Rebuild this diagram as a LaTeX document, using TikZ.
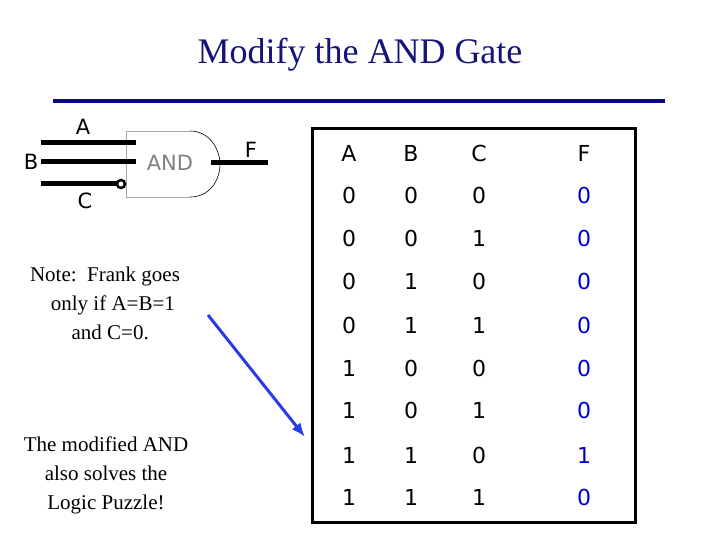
\documentclass[tikz,border=0pt]{standalone}
\usepackage{fontspec}
\usetikzlibrary{arrows.meta}
\setmainfont{Liberation Serif}
\newfontfamily\gatefont{DejaVu Sans}
\begin{document}
\begin{tikzpicture}[x=1pt,y=-1pt,
  tcell/.style={font=\gatefont\fontsize{22}{24}\selectfont},
  fcell/.style={tcell,text=blue!80!black},
  wire/.style={line width=5pt},
  glabel/.style={font=\gatefont\fontsize{21}{24}\selectfont},
  note/.style={font=\fontsize{21}{29}\selectfont,align=center}]
\useasboundingbox (0,0) rectangle (720,540);
\node (title) at (360,55) {\fontsize{36}{40}\selectfont\color{rgb,255:red,20;green,20;blue,120}Modify the AND Gate};
\coordinate (l1) at (53,101); \coordinate (l2) at (665,101);
\draw[line width=3.5pt,color={rgb,255:red,10;green,10;blue,120}] (l1) -- (l2);
% gate
\draw[gray!70,line width=0.6pt] (190,197) -- (126,197) -- (126,131) -- (190,131);
\draw[black,line width=0.6pt] (190,131) .. controls (210,131) and (220,150) .. (220,164) .. controls (220,180) and (210,197) .. (190,197);
\node[glabel,text=gray] (and) at (170,163) {AND};
\coordinate (a0) at (41,143); \coordinate (a1) at (136,143);
\coordinate (b0) at (41,162); \coordinate (b1) at (136,162);
\coordinate (c0) at (41,184); \coordinate (c1) at (117,184);
\coordinate (f0) at (211,163); \coordinate (f1) at (268,163);
\draw[wire] (a0) -- (a1); \draw[wire] (b0) -- (b1); \draw[wire] (c0) -- (c1); \draw[wire] (f0) -- (f1);
\node[circle,draw,line width=2.5pt,inner sep=0pt,minimum size=8pt] (bub) at (121,184) {};
\node[glabel] (la) at (83,127) {A};
\node[glabel] (lb) at (31,162) {B};
\node[glabel] (lc) at (85,201) {C};
\node[glabel] (lf) at (251,150) {F};
\node[note] (n1) at (105,303) {Note:\ \ Frank goes\\ \ \ \ only if A=B=1\\ \ \ and C=0.};
\node[note] (n2) at (106,475) {The modified AND\\also solves the\\Logic Puzzle!};
\coordinate (ar0) at (208,315); \coordinate (ar1) at (305,437);
\draw[-{Latex[length=14pt,width=11pt]},line width=3pt,color={rgb,255:red,40;green,60;blue,230}] (ar0) -- (ar1);
% table
\draw[line width=3pt] (312,129) rectangle (635,522);
\foreach \y/\a/\b/\c/\f [count=\i] in {153/A/B/C/F,195/0/0/0/0,238/0/0/1/0,281/0/1/0/0,325/0/1/1/0,368/1/0/0/0,410/1/0/1/0,455/1/1/0/1,497/1/1/1/0}{
  \node[tcell] (ta\i) at (349,\y) {\a};
  \node[tcell] (tb\i) at (411,\y) {\b};
  \node[tcell] (tc\i) at (479,\y) {\c};
  \ifnum\i=1 \node[tcell] (tf\i) at (584,\y) {\f};\else \node[fcell] (tf\i) at (584,\y) {\f};\fi
}
\end{tikzpicture}
\end{document}
